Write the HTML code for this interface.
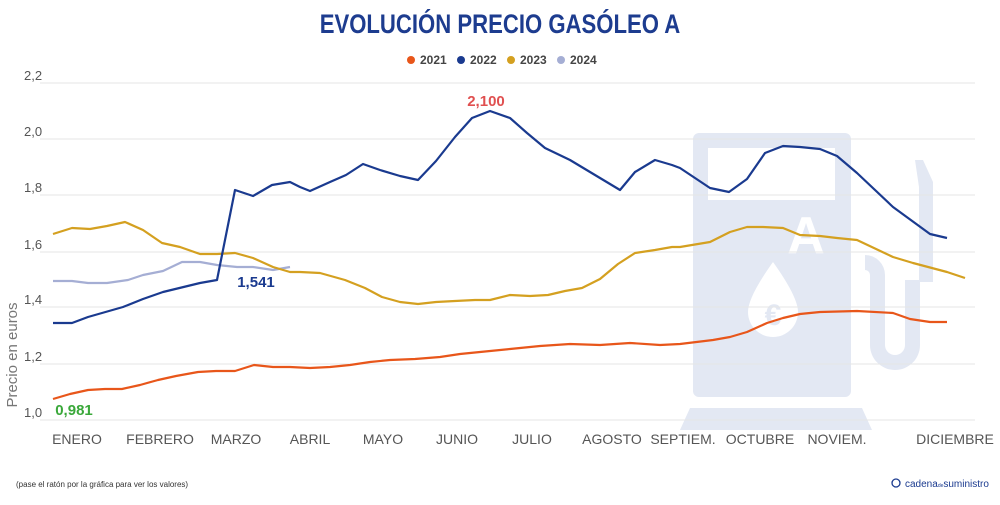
<!DOCTYPE html><html><head><meta charset="utf-8"><style>
body{margin:0;width:1000px;height:500px;background:#fff;overflow:hidden;font-family:"Liberation Sans",sans-serif}
</style></head><body>
<svg width="1000" height="500" xmlns="http://www.w3.org/2000/svg" font-family="Liberation Sans, sans-serif">
<text x="500" y="33" text-anchor="middle" font-size="27" font-weight="bold" fill="#1d3c8f" transform="translate(500,0) scale(0.82,1) translate(-500,0)">EVOLUCIÓN PRECIO GASÓLEO A</text>
<g font-size="12" fill="#444" font-weight="bold">
<circle cx="411" cy="60" r="4" fill="#e8561a"/><text x="420" y="64">2021</text>
<circle cx="461" cy="60" r="4" fill="#1a3a8f"/><text x="470" y="64">2022</text>
<circle cx="511" cy="60" r="4" fill="#d4a020"/><text x="520" y="64">2023</text>
<circle cx="561" cy="60" r="4" fill="#a5aed4"/><text x="570" y="64">2024</text>
</g>
<!-- pump background -->
<g fill="#e3e8f3">
<rect x="693" y="133" width="158" height="264" rx="6"/>
<polygon points="680,430 872,430 862,408 690,408"/>
<path d="M915,160 l8,0 l10,22 l0,100 l-14,0 l0,-95 z"/>
<path d="M865,255 a20,20 0 0 1 20,20 l0,70 a10,10 0 0 0 20,0 l0,-65 l15,0 l0,65 a25,25 0 0 1 -50,0 l0,-70 a5,5 0 0 0 -5,-5 z"/>
</g>
<rect x="708" y="148" width="127" height="52" fill="#fff"/>
<text x="806" y="253" font-size="52" font-weight="bold" fill="#fff" text-anchor="middle">A</text>
<path d="M773,262 q-25,35 -25,50 a25,25 0 0 0 50,0 q0,-15 -25,-50z" fill="#fff"/>
<text x="773" y="325" font-size="30" font-weight="bold" fill="#e3e8f3" text-anchor="middle">€</text>
<g stroke="#e6e6e6" stroke-width="1">
<line x1="40" y1="83" x2="975" y2="83"/><line x1="40" y1="139" x2="975" y2="139"/><line x1="40" y1="195" x2="975" y2="195"/><line x1="40" y1="252" x2="975" y2="252"/><line x1="40" y1="307" x2="975" y2="307"/><line x1="40" y1="364" x2="975" y2="364"/><line x1="40" y1="420" x2="975" y2="420"/>
</g>
<g font-size="13" fill="#555">
<text x="24" y="80">2,2</text><text x="24" y="136">2,0</text><text x="24" y="192">1,8</text><text x="24" y="249">1,6</text><text x="24" y="304">1,4</text><text x="24" y="361">1,2</text><text x="24" y="417">1,0</text>
</g>
<text transform="translate(17,355) rotate(-90)" text-anchor="middle" font-size="15" fill="#777">Precio en euros</text>
<g fill="none" stroke-width="2.2" stroke-linejoin="round">
<polyline stroke="#e8561a" points="53,399 70,394 88,390 105,389 122,389 140,385 158,380 176,376 198,372 216,371 235,371 254,365 273,367 290,367 310,368 330,367 350,365 370,362 390,360 415,359 440,357 460,354 480,352 510,349 540,346 570,344 600,345 630,343 660,345 680,344 713,340 730,337 747,332 767,323 783,318 800,314 820,312 857,311 893,313 910,319 930,322 947,322"/>
<polyline stroke="#a5aed4" points="53,281 72,281 88,283 107,283 128,280 143,275 163,271 182,262 200,262 217,265 237,267 253,267 273,270 290,267"/>
<polyline stroke="#d4a020" points="53,234 72,228 90,229 107,226 125,222 143,230 162,243 180,247 200,254 217,254 235,253 253,258 273,267 290,272 300,272 320,273 345,280 365,288 382,297 400,302 418,304 436,302 455,301 475,300 490,300 510,295 530,296 548,295 565,291 582,288 600,279 618,264 635,253 655,250 672,247 680,247 710,242 730,232 747,227 763,227 783,228 800,235 820,236 837,238 857,240 893,257 913,263 947,272 965,278"/>
<polyline stroke="#1a3a8f" points="53,323 72,323 88,317 123,307 143,299 163,292 200,283 217,280 235,190 253,196 272,185 290,182 300,187 310,191 330,182 346,175 363,164 380,170 400,176 418,180 436,161 455,137 472,118 490,111 510,118 527,133 545,148 570,160 595,175 620,190 635,172 655,160 672,165 680,168 710,188 729,192 747,179 765,153 783,146 800,147 820,149 837,156 857,173 893,207 930,234 947,238"/>
</g>
<text x="486" y="106" font-size="15" font-weight="bold" fill="#e05050" text-anchor="middle">2,100</text>
<text x="256" y="287" font-size="15" font-weight="bold" fill="#1a3a8f" text-anchor="middle">1,541</text>
<text x="74" y="415" font-size="15" font-weight="bold" fill="#3aa83a" text-anchor="middle">0,981</text>
<g font-size="14" fill="#555" text-anchor="middle">
<text x="77" y="444">ENERO</text><text x="160" y="444">FEBRERO</text><text x="236" y="444">MARZO</text><text x="310" y="444">ABRIL</text><text x="383" y="444">MAYO</text><text x="457" y="444">JUNIO</text><text x="532" y="444">JULIO</text><text x="612" y="444">AGOSTO</text><text x="683" y="444">SEPTIEM.</text><text x="760" y="444">OCTUBRE</text><text x="837" y="444">NOVIEM.</text><text x="955" y="444">DICIEMBRE</text>
</g>
<text x="16" y="487" font-size="8" fill="#333">(pase el ratón por la gráfica para ver los valores)</text>
<circle cx="896" cy="483" r="4" fill="none" stroke="#1a3a8f" stroke-width="1.3"/>
<text x="905" y="487" font-size="10" fill="#1a3a8f">cadena<tspan font-size="5">de</tspan>suministro</text>
</svg>
</body></html>
